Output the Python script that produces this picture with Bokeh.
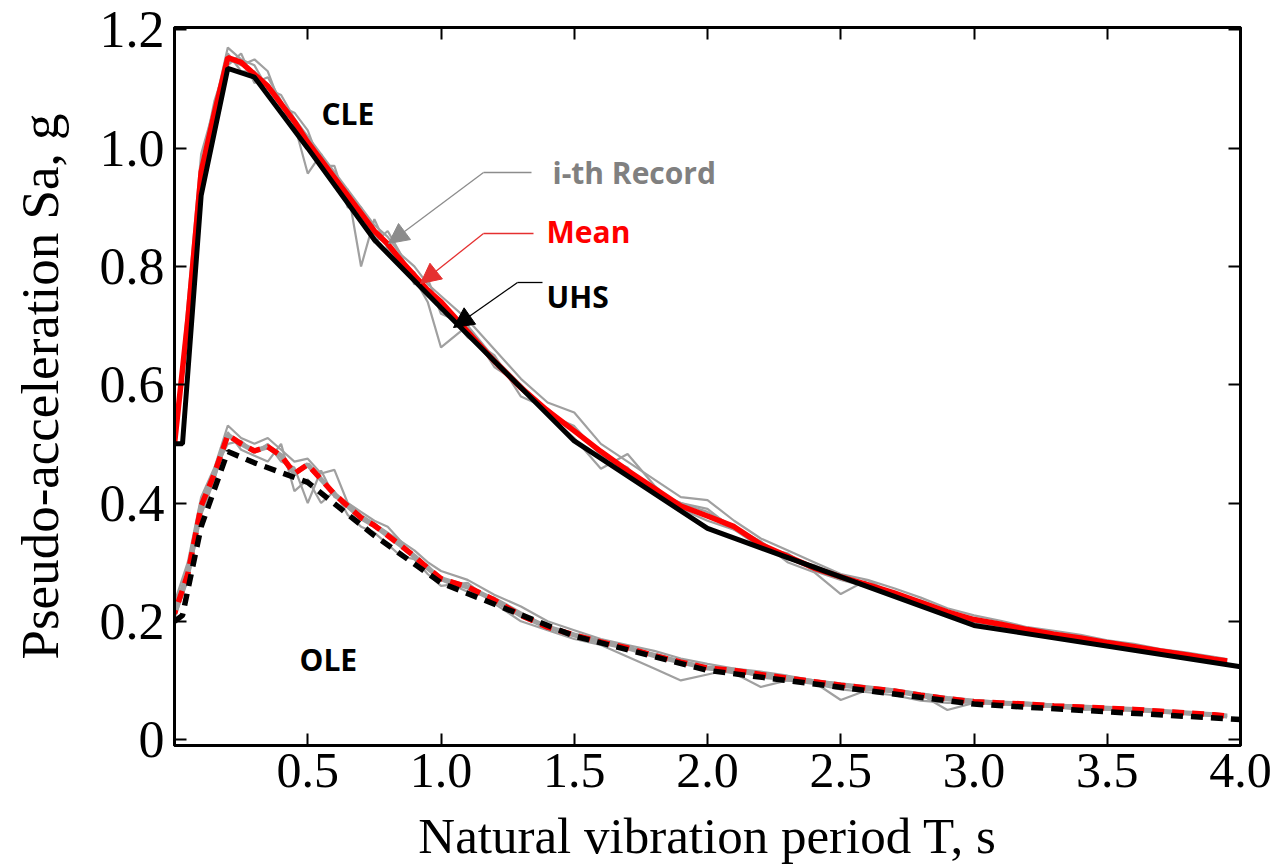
from bokeh.plotting import figure
from bokeh.models import (Range1d, LinearAxis, FixedTicker, Label, Arrow, NormalHead,
                          PrintfTickFormatter)
from bokeh.embed import file_html
from bokeh.resources import INLINE

# ---------------- data ----------------
T_uhs = [0.0, 0.03, 0.1, 0.2, 0.3, 0.5, 0.75, 1.0, 1.5, 2.0, 3.0, 4.0]
cle_uhs = [0.50, 0.50, 0.92, 1.135, 1.12, 1.00, 0.845, 0.73, 0.505, 0.357, 0.193, 0.123]
ole_uhs = [0.20, 0.21, 0.36, 0.487, 0.468, 0.435, 0.345, 0.265, 0.175, 0.117, 0.06, 0.034]

T_rec = [0.0, 0.05, 0.1, 0.15, 0.2, 0.25, 0.3, 0.35, 0.4, 0.45, 0.5, 0.55, 0.6, 0.65, 0.7,
         0.75, 0.8, 0.85, 0.9, 0.95, 1.0, 1.1, 1.2, 1.3, 1.4, 1.5, 1.6, 1.7, 1.8, 1.9, 2.0,
         2.1, 2.2, 2.3, 2.4, 2.5, 2.6, 2.7, 2.8, 2.9, 3.0, 3.1, 3.2, 3.3, 3.4, 3.5, 3.6, 3.7,
         3.8, 3.9, 3.95]

cle_mean = [0.50, 0.71, 0.96, 1.06, 1.153, 1.145, 1.125, 1.105, 1.075, 1.045, 1.01, 0.98, 0.95,
            0.92, 0.89, 0.86, 0.838, 0.81, 0.785, 0.76, 0.74, 0.69, 0.64, 0.595, 0.556, 0.522,
            0.487, 0.455, 0.425, 0.395, 0.378, 0.36, 0.33, 0.31, 0.29, 0.275, 0.262, 0.248,
            0.232, 0.216, 0.203, 0.195, 0.186, 0.178, 0.172, 0.164, 0.157, 0.150, 0.143, 0.136, 0.133]
cle_rec1 = [0.49, 0.74, 0.99, 1.07, 1.17, 1.15, 1.14, 1.10, 1.09, 1.05, 1.02, 0.99, 0.96, 0.93,
            0.90, 0.87, 0.85, 0.82, 0.80, 0.77, 0.75, 0.71, 0.66, 0.61, 0.57, 0.553, 0.50, 0.47,
            0.44, 0.41, 0.405, 0.37, 0.34, 0.32, 0.30, 0.28, 0.27, 0.256, 0.24, 0.222, 0.210,
            0.201, 0.19, 0.184, 0.177, 0.168, 0.162, 0.153, 0.147, 0.140, 0.136]
cle_rec2 = [0.51, 0.70, 0.95, 1.05, 1.14, 1.16, 1.11, 1.12, 1.08, 1.04, 0.957, 0.99, 0.94, 0.93,
            0.80, 0.88, 0.83, 0.80, 0.78, 0.74, 0.663, 0.70, 0.63, 0.60, 0.55, 0.51, 0.458, 0.483,
            0.43, 0.39, 0.37, 0.355, 0.335, 0.30, 0.283, 0.246, 0.27, 0.245, 0.23, 0.21, 0.198,
            0.19, 0.18, 0.175, 0.168, 0.16, 0.155, 0.148, 0.14, 0.132, 0.128]
cle_rec3 = [0.50, 0.69, 0.94, 1.06, 1.16, 1.13, 1.13, 1.09, 1.06, 1.05, 1.00, 0.97, 0.955, 0.91,
            0.89, 0.85, 0.84, 0.80, 0.79, 0.75, 0.735, 0.68, 0.65, 0.58, 0.56, 0.52, 0.49, 0.45,
            0.42, 0.40, 0.39, 0.355, 0.325, 0.315, 0.285, 0.27, 0.258, 0.25, 0.228, 0.214, 0.205,
            0.197, 0.188, 0.18, 0.171, 0.166, 0.158, 0.151, 0.145, 0.137, 0.134]
cle_rec4 = [0.50, 0.72, 0.97, 1.08, 1.15, 1.14, 1.15, 1.13, 1.07, 1.06, 1.03, 0.97, 0.97, 0.90,
            0.90, 0.84, 0.86, 0.82, 0.77, 0.78, 0.72, 0.70, 0.645, 0.60, 0.55, 0.53, 0.48, 0.46,
            0.415, 0.40, 0.385, 0.36, 0.335, 0.305, 0.295, 0.275, 0.26, 0.245, 0.235, 0.218, 0.20,
            0.194, 0.185, 0.177, 0.173, 0.162, 0.156, 0.149, 0.141, 0.135, 0.131]

ole_mean = [0.213, 0.28, 0.395, 0.45, 0.515, 0.50, 0.488, 0.495, 0.48, 0.45, 0.465, 0.44, 0.415,
            0.395, 0.375, 0.362, 0.345, 0.328, 0.31, 0.29, 0.272, 0.258, 0.236, 0.21, 0.19, 0.177,
            0.165, 0.155, 0.142, 0.131, 0.121, 0.117, 0.11, 0.104, 0.098, 0.092, 0.087, 0.082,
            0.075, 0.069, 0.064, 0.062, 0.06, 0.057, 0.055, 0.053, 0.051, 0.048, 0.045, 0.042, 0.040]
ole_rec1 = [0.232, 0.30, 0.41, 0.46, 0.531, 0.51, 0.50, 0.51, 0.49, 0.47, 0.475, 0.45, 0.456, 0.40,
            0.385, 0.37, 0.36, 0.335, 0.32, 0.30, 0.285, 0.27, 0.245, 0.225, 0.20, 0.185, 0.17,
            0.16, 0.15, 0.137, 0.128, 0.12, 0.115, 0.108, 0.10, 0.095, 0.09, 0.085, 0.078, 0.072,
            0.067, 0.064, 0.062, 0.059, 0.057, 0.054, 0.052, 0.049, 0.046, 0.043, 0.041]
ole_rec2 = [0.205, 0.27, 0.38, 0.44, 0.52, 0.49, 0.48, 0.47, 0.50, 0.42, 0.44, 0.40, 0.42, 0.38,
            0.36, 0.35, 0.33, 0.31, 0.305, 0.28, 0.26, 0.265, 0.23, 0.20, 0.185, 0.17, 0.16, 0.14,
            0.12, 0.10, 0.11, 0.12, 0.105, 0.10, 0.094, 0.085, 0.08, 0.075, 0.066, 0.062, 0.063,
            0.06, 0.058, 0.055, 0.05, 0.051, 0.049, 0.046, 0.043, 0.040, 0.038]
ole_rec3 = [0.22, 0.29, 0.40, 0.455, 0.50, 0.505, 0.485, 0.50, 0.47, 0.46, 0.40, 0.455, 0.41, 0.40,
            0.38, 0.365, 0.35, 0.335, 0.305, 0.295, 0.27, 0.25, 0.24, 0.215, 0.19, 0.175, 0.163,
            0.155, 0.145, 0.133, 0.12, 0.112, 0.089, 0.10, 0.097, 0.067, 0.084, 0.08, 0.076, 0.05,
            0.062, 0.063, 0.06, 0.056, 0.055, 0.053, 0.05, 0.047, 0.044, 0.041, 0.039]

x_ticks = [0.0, 0.5, 1.0, 1.5, 2.0, 2.5, 3.0, 3.5, 4.0]
y_ticks = [0.0, 0.2, 0.4, 0.6, 0.8, 1.0, 1.2]
x_title = "Natural vibration period T, s"
y_title = "Pseudo-acceleration Sa, g"

# ---------------- layout ----------------
W, H = 1276, 868
FL, FR, FT, FB = 174, 1240, 27, 745
X0, X1 = 0.0, 4.0
Y0, Y1 = -0.01, 1.204


def dx(px):
    return X0 + (px - FL) * (X1 - X0) / (FR - FL)


def dy(py):
    return Y0 + (FB - py) * (Y1 - Y0) / (FB - FT)


p = figure(width=W, height=H, x_range=Range1d(X0, X1), y_range=Range1d(Y0, Y1),
           output_backend="svg", toolbar_location=None,
           min_border_left=FL, min_border_right=W - FR, min_border_top=FT,
           min_border_bottom=H - FB)
p.grid.visible = False
p.outline_line_color = "black"
p.outline_line_width = 3
p.background_fill_color = "white"
p.border_fill_color = "white"

SERIF = "Liberation Serif"


def style_axis(ax, ticks, font_size):
    ax.ticker = FixedTicker(ticks=ticks)
    ax.formatter = PrintfTickFormatter(format="%.1f")
    ax.axis_line_color = "black"
    ax.axis_line_width = 3
    ax.major_tick_in = 12
    ax.major_tick_out = 0
    ax.major_tick_line_width = 2
    ax.major_tick_line_color = "black"
    ax.minor_tick_line_color = None
    ax.major_label_text_font = SERIF
    ax.major_label_text_font_size = font_size
    ax.major_label_text_color = "black"
    ax.axis_label_text_font = SERIF
    ax.axis_label_text_font_style = "normal"
    ax.axis_label_text_color = "black"


xa = p.xaxis[0]
style_axis(xa, x_ticks, "50px")
xa.major_label_overrides = {0: ""}
xa.major_label_standoff = 8
xa.axis_label = x_title
xa.axis_label_text_font_size = "51px"
xa.axis_label_standoff = 18

ya = p.yaxis[0]
style_axis(ya, y_ticks, "52px")
ya.major_label_overrides = {0: "0"}
ya.major_label_standoff = 10
ya.axis_label = y_title
ya.axis_label_text_font_size = "53px"
ya.axis_label_standoff = 28

top = LinearAxis()
style_axis(top, x_ticks, "1px")
top.major_label_overrides = {t: "" for t in x_ticks}
p.add_layout(top, "above")
right = LinearAxis()
style_axis(right, y_ticks, "1px")
right.major_label_overrides = {t: "" for t in y_ticks}
p.add_layout(right, "right")

GRAY = "#A0A0A0"
RED = "#FF0000"

# records
for rec in (cle_rec1, cle_rec2, cle_rec3, cle_rec4):
    p.line(T_rec, rec, line_color=GRAY, line_width=2.2)
for rec in (ole_rec1, ole_rec2, ole_rec3):
    p.line(T_rec, rec, line_color=GRAY, line_width=2.2)

# means
p.line(T_rec, cle_mean, line_color=RED, line_width=5.5)
p.line(T_rec, ole_mean, line_color=GRAY, line_width=5)
p.line(T_rec, ole_mean, line_color=RED, line_width=5.5, line_dash="12 8", line_dash_offset=8)

# UHS
p.line(T_uhs, cle_uhs, line_color="black", line_width=5)
p.line(T_uhs, ole_uhs, line_color="black", line_width=5.5, line_dash="12 8")

# ---------------- annotations ----------------
SANS = "Open Sans"


def note(text, px, py, color, size="30px"):
    p.add_layout(Label(x=dx(px), y=dy(py), text=text, text_font=SANS, text_font_style="bold",
                       text_font_size=size, text_color=color, text_align="left",
                       text_baseline="alphabetic"))


note("CLE", 321, 113, "black")
note("OLE", 299, 659, "black")
note("i-th Record", 552, 172, "#808080")
note("Mean", 546, 231, RED)
note("UHS", 546, 296, "black")


def leader(color, x_h1, x_h0, y_h, x_tip, y_tip, lw=1.3):
    p.add_layout(Arrow(end=None, x_start=dx(x_h1), y_start=dy(y_h), x_end=dx(x_h0), y_end=dy(y_h),
                       line_color=color, line_width=lw))
    p.add_layout(Arrow(end=NormalHead(size=20, fill_color=color, line_color=color),
                       x_start=dx(x_h0), y_start=dy(y_h), x_end=dx(x_tip), y_end=dy(y_tip),
                       line_color=color, line_width=lw))


leader("#8C8C8C", 531, 483, 172, 388, 243)
leader("#E53030", 533, 483, 233, 420, 283)
leader("black", 542, 517, 282, 453, 327)

open("out.html", "w").write(file_html(p, INLINE))
